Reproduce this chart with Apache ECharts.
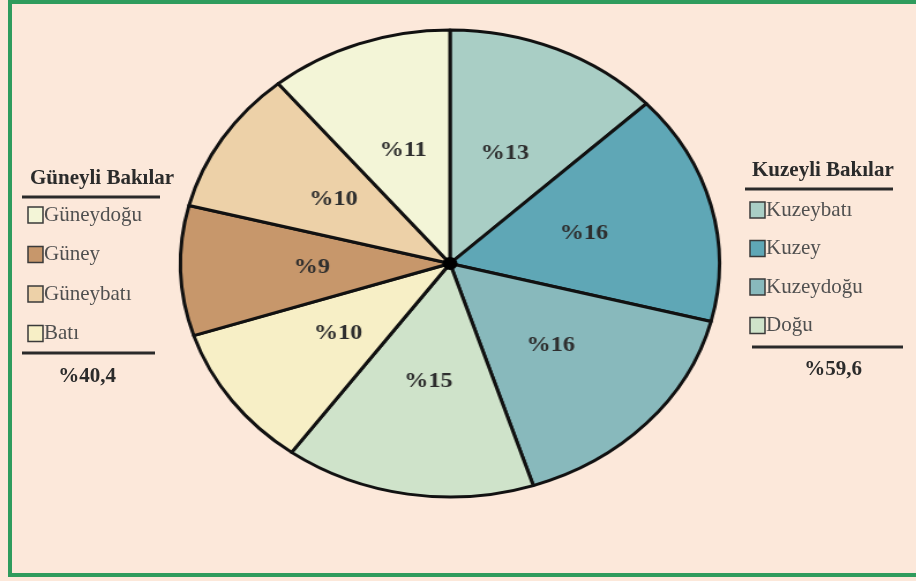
<!DOCTYPE html>
<html>
<head>
<meta charset="utf-8">
<script src="https://cdn.jsdelivr.net/npm/echarts@6/dist/echarts.min.js"></script>
<style>
  html, body { margin: 0; padding: 0; background: #fce8da; }
  #wrap { position: relative; width: 916px; height: 581px; overflow: hidden; }
  #bg { position: absolute; left: 0; top: 0; width: 916px; height: 581px; }
  #pie { position: absolute; left: 200px; top: 0; width: 500px; height: 581px;
         transform-origin: 250px 0; transform: scaleX(1.154); }
</style>
</head>
<body>
<div id="wrap">
  <div id="bg"></div>
  <div id="pie"></div>
</div>
<script>
// Aspect shares, clockwise from north
const sliceNames  = ['Kuzeybatı', 'Kuzey', 'Kuzeydoğu', 'Doğu', 'Batı', 'Güney', 'Güneybatı', 'Güneydoğu'];
const sliceValues = [13, 16, 16, 15, 10, 9, 10, 11];

// Legend groups
const southTitle = 'Güneyli Bakılar';
const southNames = ['Güneydoğu', 'Güney', 'Güneybatı', 'Batı'];
const southTotal = '%40,4';
const northTitle = 'Kuzeyli Bakılar';
const northNames = ['Kuzeybatı', 'Kuzey', 'Kuzeydoğu', 'Doğu'];
const northTotal = '%59,6';

const colors = {
  'Kuzeybatı': '#a9cec5',
  'Kuzey':     '#5fa7b6',
  'Kuzeydoğu': '#88b9bc',
  'Doğu':      '#cfe3ca',
  'Batı':      '#f7efc6',
  'Güney':     '#c7976b',
  'Güneybatı': '#edd1a8',
  'Güneydoğu': '#f3f5d7'
};

const serif = '"Liberation Serif", "DejaVu Serif", serif';

// ---- background, frame and legends ----
function legendBlock(title, names, total, x, titleY, lineX1, lineX2, itemY0, step, bottomY, bottomX1, bottomX2, totalX, totalY) {
  const els = [];
  els.push({ type: 'text', x: x, y: titleY,
    style: { text: title, font: 'bold 21px ' + serif, fill: '#2b2b2b', textVerticalAlign: 'middle' } });
  els.push({ type: 'line', shape: { x1: lineX1, y1: titleY + 18, x2: lineX2, y2: titleY + 18 },
    style: { stroke: '#2a2a2a', lineWidth: 3 } });
  names.forEach((n, i) => {
    const y = itemY0 + i * step;
    els.push({ type: 'rect', shape: { x: x - 2, y: y - 8, width: 15, height: 16 },
      style: { fill: colors[n], stroke: '#3a3a3a', lineWidth: 1.5 } });
    els.push({ type: 'text', x: x + 14, y: y,
      style: { text: n, font: '21px ' + serif, fill: '#505050', textVerticalAlign: 'middle' } });
  });
  els.push({ type: 'line', shape: { x1: bottomX1, y1: bottomY, x2: bottomX2, y2: bottomY },
    style: { stroke: '#2a2a2a', lineWidth: 3 } });
  els.push({ type: 'text', x: totalX, y: totalY,
    style: { text: total, font: 'bold 21px ' + serif, fill: '#2b2b2b',
             textAlign: 'center', textVerticalAlign: 'middle' } });
  return els;
}

const bg = echarts.init(document.getElementById('bg'), null, { renderer: 'canvas' });
bg.setOption({
  backgroundColor: '#fce8da',
  graphic: [
    { type: 'rect', shape: { x: 10, y: 2, width: 930, height: 573 },
      style: { fill: 'none', stroke: '#2f9c5d', lineWidth: 4 } },
    ...legendBlock(southTitle, southNames, southTotal, 30, 179, 22, 160, 215, 39.5, 353, 22, 155, 87, 377),
    ...legendBlock(northTitle, northNames, northTotal, 752, 171, 745, 893, 210, 38.5, 347, 752, 903, 833, 370)
  ]
});

// ---- pie (stretched horizontally by the container) ----
const pie = echarts.init(document.getElementById('pie'), null, { renderer: 'canvas' });
pie.setOption({
  animation: false,
  graphic: [
    // hub where the slices meet
    { type: 'circle', shape: { cx: 250, cy: 263.5, r: 6.5 }, style: { fill: '#000' }, z: 100 }
  ],
  series: [{
    type: 'pie',
    center: ['50%', 263.5],
    radius: [0, 233.5],
    startAngle: 90,
    clockwise: true,
    avoidLabelOverlap: false,
    data: sliceNames.map((n, i) => ({ name: n, value: sliceValues[i], itemStyle: { color: colors[n] } })),
    itemStyle: { borderColor: '#111', borderWidth: 3 },
    label: {
      position: 'inside',
      formatter: '%{c}',
      fontFamily: serif,
      fontWeight: 'bold',
      fontSize: 21,
      color: '#2e2e2e'
    },
    labelLine: { show: false },
    emphasis: { disabled: true }
  }]
});
</script>
</body>
</html>
